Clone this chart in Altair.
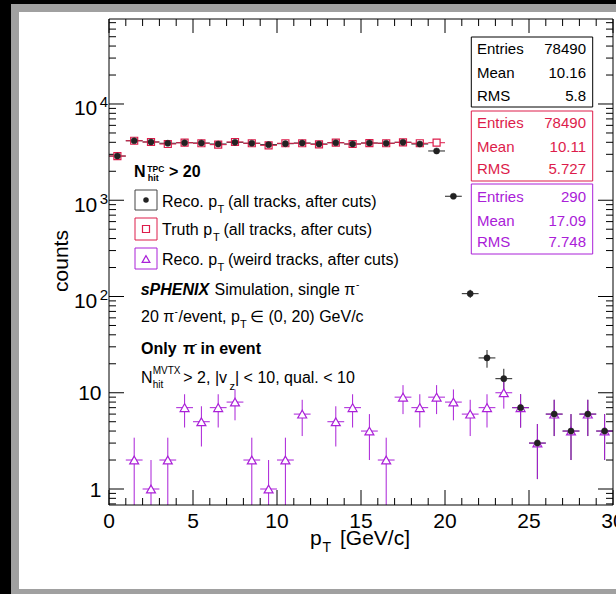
import altair as alt
import pandas as pd
import numpy as np

# ---------------- data ----------------
BIN_CENTERS = [0.5, 1.5, 2.5, 3.5, 4.5, 5.5, 6.5, 7.5, 8.5, 9.5,
               10.5, 11.5, 12.5, 13.5, 14.5, 15.5, 16.5, 17.5, 18.5, 19.5,
               20.5, 21.5, 22.5, 23.5, 24.5, 25.5, 26.5, 27.5, 28.5, 29.5]
RECO = [2880, 4150, 4030, 3910, 3960, 3930, 3840, 4000, 3910, 3780,
        3870, 3930, 3840, 3960, 3840, 3930, 3910, 4000, 3840, 3250,
        1100, 107, 23, 14, 7, 3, 6, 4, 6, 4]
TRUTH = [2880, 4150, 4030, 3840, 3960, 3910, 3780, 4030, 3910, 3720,
         3910, 3910, 3810, 3960, 3840, 3930, 3910, 4000, 3910, 3960,
         0, 0, 0, 0, 0, 0, 0, 0, 0, 0]
WEIRD = [0, 2, 1, 2, 7, 5, 7, 8, 2, 1,
         2, 6, 0, 5, 7, 4, 2, 9, 7, 9,
         8, 6, 7, 10, 7, 3, 6, 4, 6, 4]

STAT_LABELS = ["Entries", "Mean", "RMS"]
RECO_STATS = ["78490", "10.16", "5.8"]
TRUTH_STATS = ["78490", "10.11", "5.727"]
WEIRD_STATS = ["290", "17.09", "7.748"]

X_MAJOR = [0, 5, 10, 15, 20, 25, 30]
X_MINOR = [1, 2, 3, 4, 6, 7, 8, 9, 11, 12, 13, 14, 16, 17, 18, 19,
           21, 22, 23, 24, 26, 27, 28, 29]
Y_MAJOR = [1, 10, 100, 1000, 10000]
Y_MINOR = [0.7, 0.8, 0.9, 2, 3, 4, 5, 6, 7, 8, 9, 20, 30, 40, 50, 60, 70, 80, 90,
           200, 300, 400, 500, 600, 700, 800, 900,
           2000, 3000, 4000, 5000, 6000, 7000, 8000, 9000,
           20000, 30000, 40000, 50000, 60000, 70000]
Y_EXP_VALUES = [100, 1000, 10000]
Y_EXP_TEXT = ["2", "3", "4"]
Y_PLAIN_VALUES = [1, 10]
Y_PLAIN_TEXT = ["1", "10"]

FONT = "Liberation Sans"
DARK = "#222222"
RED = "#dd1c4b"
PURPLE = "#aa20d8"

W, H = 504, 486
xs = alt.Scale(domain=[0, 30], nice=False, zero=False)
ys = alt.Scale(type="log", domain=[0.682, 76400], nice=False)


def series_df(vals):
    c = np.array(BIN_CENTERS, dtype=float)
    n = np.array(vals, dtype=float)
    m = n > 0
    c, n = c[m], n[m]
    e = np.sqrt(n)
    return pd.DataFrame({"c": c, "n": n, "x0": c - 0.5, "x1": c + 0.5,
                         "lo": np.maximum(n - e, 0.01), "hi": n + e})


def one():
    return alt.Chart(pd.DataFrame({"k": [0]}))


def rect(x, x2, y, y2, fill, stroke=None, sw=1.0, fo=1.0):
    kw = dict(fill=fill, fillOpacity=fo)
    if stroke:
        kw.update(stroke=stroke, strokeWidth=sw)
    return one().mark_rect(**kw).encode(
        x=alt.value(x), x2=alt.value(x2), y=alt.value(y), y2=alt.value(y2))


def txt(s, x, y, size=16, color="black", weight="normal", style="normal",
        align="left", angle=None):
    kw = dict(align=align, baseline="alphabetic", font=FONT, fontSize=size,
              fontWeight=weight, fontStyle=style, color=color)
    if angle is not None:
        kw["angle"] = angle
    return one().mark_text(**kw).encode(
        x=alt.value(x), y=alt.value(y), text=alt.value(s))


layers = []
# window chrome
layers.append(rect(-98, 507, -15, 575, "#a0a0a0"))
layers.append(rect(-90, 507, -7, 570, "#ffffff"))

# ticks
def xticks(vals, y, y2):
    return alt.Chart(pd.DataFrame({"v": vals})).mark_rule(
        color="black", strokeWidth=1).encode(
        x=alt.X("v:Q", scale=xs, axis=None), y=alt.value(y), y2=alt.value(y2))


def yticks(vals, x, x2):
    return alt.Chart(pd.DataFrame({"v": vals})).mark_rule(
        color="black", strokeWidth=1).encode(
        y=alt.Y("v:Q", scale=ys, axis=None), x=alt.value(x), x2=alt.value(x2))


layers += [xticks(X_MAJOR, H, H - 15), xticks(X_MINOR, H, H - 7),
           xticks(X_MAJOR, 0, 14), xticks(X_MINOR, 0, 7),
           yticks(Y_MAJOR, 0, 15), yticks(Y_MINOR, 0, 7),
           yticks(Y_MAJOR, W, W - 15), yticks(Y_MINOR, W, W - 7)]

# tick labels
layers.append(alt.Chart(pd.DataFrame({"v": X_MAJOR, "t": [str(v) for v in X_MAJOR]})).mark_text(
    font=FONT, fontSize=21, align="center", baseline="alphabetic", color="black").encode(
    x=alt.X("v:Q", scale=xs, axis=None), y=alt.value(509), text="t:N"))
layers.append(alt.Chart(pd.DataFrame({"v": Y_EXP_VALUES, "t": ["10"] * 3})).mark_text(
    font=FONT, fontSize=21, align="right", baseline="alphabetic", color="black", dy=11.5).encode(
    y=alt.Y("v:Q", scale=ys, axis=None), x=alt.value(-11.7), text="t:N"))
layers.append(alt.Chart(pd.DataFrame({"v": Y_EXP_VALUES, "t": Y_EXP_TEXT})).mark_text(
    font=FONT, fontSize=15, align="left", baseline="alphabetic", color="black", dy=3.5).encode(
    y=alt.Y("v:Q", scale=ys, axis=None), x=alt.value(-9.3), text="t:N"))
layers.append(alt.Chart(pd.DataFrame({"v": Y_PLAIN_VALUES, "t": Y_PLAIN_TEXT})).mark_text(
    font=FONT, fontSize=21, align="right", baseline="alphabetic", color="black", dy=7.5).encode(
    y=alt.Y("v:Q", scale=ys, axis=None), x=alt.value(-7.5), text="t:N"))

# axis titles
layers.append(txt("counts", -41.5, 242, size=21, align="center", angle=270))
layers.append(txt("p", 201, 526, size=21))
layers.append(txt("T", 213.5, 533, size=14))
layers.append(txt("[GeV/c]", 231, 526, size=21))

# data
reco_df = series_df(RECO)
truth_df = series_df(TRUTH)
weird_df = series_df(WEIRD)


def hbar(df, color):
    return alt.Chart(df).mark_rule(color=color, strokeWidth=1, clip=True).encode(
        x=alt.X("x0:Q", scale=xs, axis=None), x2="x1:Q",
        y=alt.Y("n:Q", scale=ys, axis=None))


def vbar(df, color):
    return alt.Chart(df).mark_rule(color=color, strokeWidth=1, clip=True).encode(
        x=alt.X("c:Q", scale=xs, axis=None),
        y=alt.Y("lo:Q", scale=ys, axis=None), y2="hi:Q")


def pts(df, shape, size, fill, stroke, sw=1.0):
    return alt.Chart(df).mark_point(shape=shape, size=size, filled=True, fill=fill,
                                    stroke=stroke, strokeWidth=sw, opacity=1,
                                    clip=True).encode(
        x=alt.X("c:Q", scale=xs, axis=None), y=alt.Y("n:Q", scale=ys, axis=None))


layers += [hbar(reco_df, DARK), vbar(reco_df, DARK),
           hbar(truth_df, RED), vbar(truth_df, RED),
           pts(truth_df, "square", 49, "white", RED, 1.2),
           hbar(weird_df, PURPLE), vbar(weird_df, PURPLE),
           pts(weird_df, "triangle-up", 80, "white", PURPLE, 1.2),
           pts(reco_df, "circle", 38, DARK, DARK, 0.5)]

# stat boxes
boxes = [(RECO_STATS, "black", 18, 88, [35.4, 59.0, 81.5]),
         (TRUTH_STATS, RED, 92, 162, [109, 132.7, 155]),
         (WEIRD_STATS, PURPLE, 165, 235, [182.7, 207, 228.3])]
for vals, col, y0, y1, bls in boxes:
    layers.append(rect(362.3, 483.7, y0, y1, "white", col, 1.0))
    for lab, v, bl in zip(STAT_LABELS, vals, bls):
        layers.append(txt(lab, 368, bl, size=15, color=col))
        layers.append(txt(v, 477, bl, size=15, color=col, align="right"))

# legend
layers.append(rect(26, 48, 171, 191, "white", "#444444", 1.0))
layers.append(rect(26, 48, 199, 221, "white", RED, 1.0))
layers.append(rect(26, 48, 229, 250, "white", PURPLE, 1.0))
layers.append(one().mark_point(shape="circle", filled=True, size=30, color=DARK, opacity=1).encode(
    x=alt.value(37), y=alt.value(181)))
layers.append(one().mark_point(shape="square", filled=True, size=49, fill="white", stroke=RED,
                               strokeWidth=1.2, opacity=1).encode(x=alt.value(37), y=alt.value(210)))
layers.append(one().mark_point(shape="triangle-up", size=60, filled=True, fill="white", stroke=PURPLE,
                               strokeWidth=1.2, opacity=1).encode(x=alt.value(37), y=alt.value(240)))

layers += [txt("Reco. p", 53, 187.7), txt("T", 108.5, 194, size=11),
           txt("(all tracks, after cuts)", 119, 187.7)]
layers += [txt("Truth p", 53, 216), txt("T", 104, 222.3, size=11),
           txt("(all tracks, after cuts)", 114.5, 216)]
layers += [txt("Reco. p", 53, 246), txt("T", 108.5, 252.3, size=11),
           txt("(weird tracks, after cuts)", 119, 246)]

# header N_hit^TPC > 20
layers += [txt("N", 25, 158, weight="bold"),
           txt("TPC", 38.3, 153.2, size=8.5, weight="bold"),
           txt("hit", 38.8, 162, size=9, weight="bold"),
           txt("> 20", 60, 158, weight="bold")]

# annotation block
layers += [txt("sPHENIX", 31.7, 276, weight="bold", style="italic"),
           txt("Simulation, single \u03c0", 105.5, 276),
           txt("-", 247, 269, size=10)]
layers += [txt("20 \u03c0", 32, 302.7), txt("-", 65.5, 295.5, size=10),
           txt("/event, p", 69.5, 302.7), txt("T", 131, 309, size=11),
           txt("\u2208 (0, 20) GeV/c", 141, 302.7)]
layers += [txt("Only", 32, 335.3, weight="bold"),
           txt("\u03c0", 74, 335.3, weight="bold"),
           txt("-", 85, 328, size=10),
           txt("in event", 91.5, 335.3, weight="bold")]
layers += [txt("N", 32, 364.3), txt("MVTX", 43.7, 355, size=10),
           txt("hit", 43.7, 368.5, size=10),
           txt("> 2, |v", 74.3, 364.3), txt("z", 120.5, 370.5, size=11),
           txt("| < 10, qual. < 10", 126, 364.3)]

# frame
layers.append(rect(0, W, 0, H, "white", "black", 1.0, fo=0.0))

chart = alt.layer(*layers).properties(
    width=W, height=H, background="black", autosize="none",
    padding={"left": 109, "top": 19, "right": 3, "bottom": 89},
).configure_view(strokeWidth=0)

chart.save("out.html", embed_options={"renderer": "svg", "actions": False})
